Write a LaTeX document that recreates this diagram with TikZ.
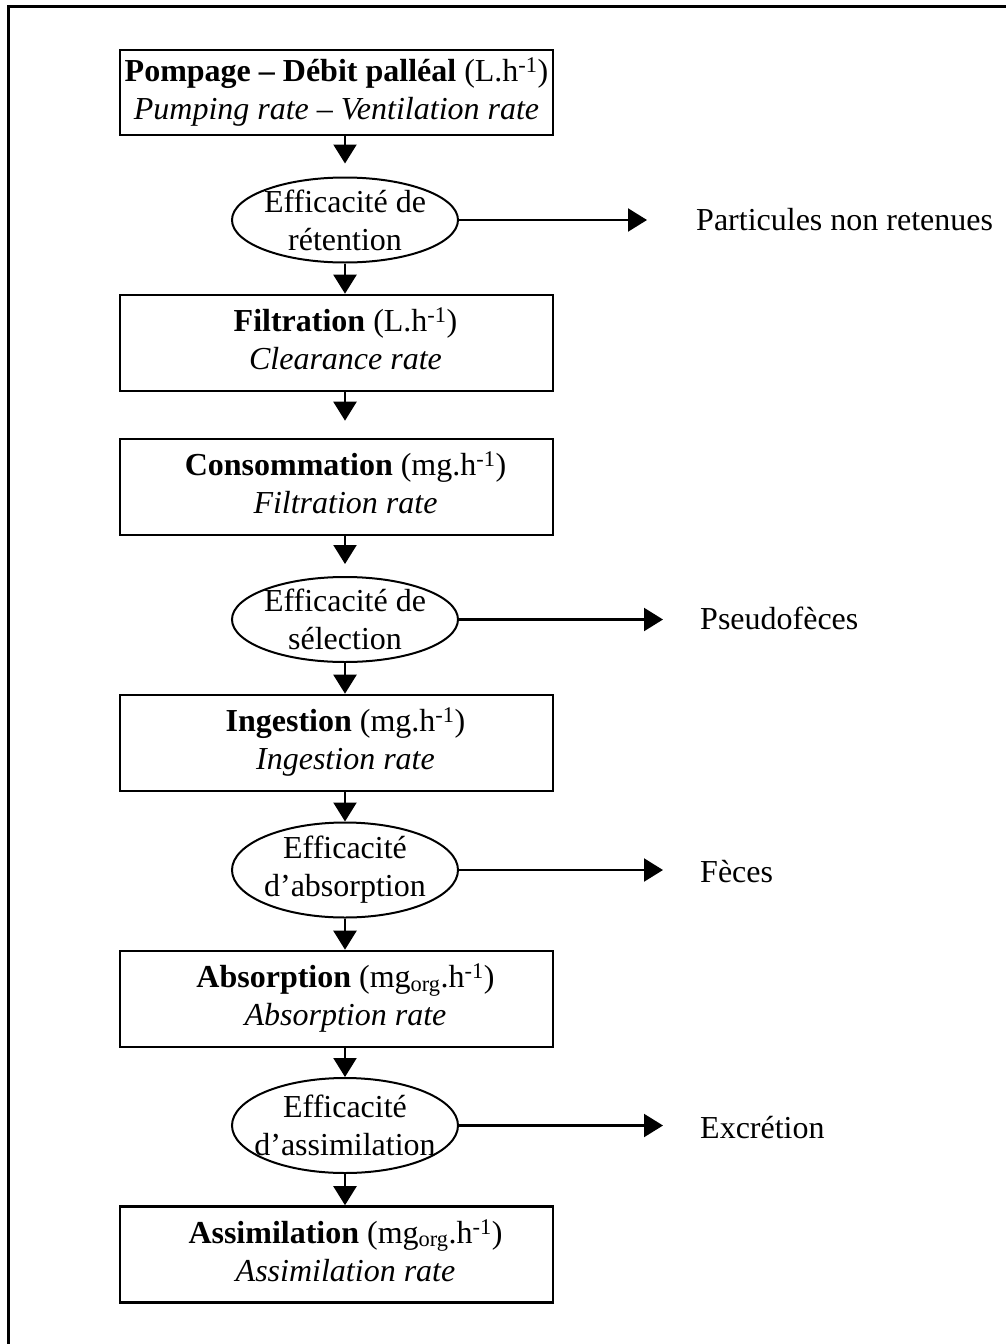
\documentclass[tikz,border=0pt]{standalone}
\usepackage{fontspec}
\setmainfont{Liberation Serif}
\usetikzlibrary{shapes.geometric}
\usetikzlibrary{arrows.meta}

\newcommand{\stagetext}[3][18pt]{\begin{tabular}{@{\hspace{#1}}c@{}}#2\\#3\end{tabular}}

\begin{document}
\begin{tikzpicture}[x=1pt,y=-1pt,
  every node/.style={font=\fontsize{32}{38}\selectfont},
  stage/.style={draw, line width=2.6pt, minimum width=433pt, minimum height=96pt, inner sep=0pt},
  effic/.style={draw, ellipse, line width=2pt, minimum width=226pt, minimum height=85pt, inner sep=0pt},
  flow/.style={line width=2.2pt, -{Triangle[length=19pt,width=23pt]}},
  loss/.style={anchor=west, inner sep=0pt, text height=24pt, text depth=4pt}]
\useasboundingbox (0,0) rectangle (1006,1344);
%frame
\draw[line width=2.5pt] (8.5,1344) -- (8.5,6.5) -- (1006,6.5);

%boxes
\node[stage, minimum height=85pt] (pump) at (336.5,92.5) {\stagetext[0pt]{\textbf{Pompage -- Débit palléal} (L.h\textsuperscript{-1})}{\textit{Pumping rate -- Ventilation rate}}};
\node[stage] (filt) at (336.5,343) {\stagetext{\textbf{Filtration} (L.h\textsuperscript{-1})}{\textit{Clearance rate}}};
\node[stage] (cons) at (336.5,487) {\stagetext{\textbf{Consommation} (mg.h\textsuperscript{-1})}{\textit{Filtration rate}}};
\node[stage] (inge) at (336.5,743) {\stagetext{\textbf{Ingestion} (mg.h\textsuperscript{-1})}{\textit{Ingestion rate}}};
\node[stage] (abso) at (336.5,999) {\stagetext{\textbf{Absorption} (mg\textsubscript{org}.h\textsuperscript{-1})}{\textit{Absorption rate}}};
\node[stage] (assi) at (336.5,1254.5) {\stagetext{\textbf{Assimilation} (mg\textsubscript{org}.h\textsuperscript{-1})}{\textit{Assimilation rate}}};

%ellipses
\node[effic, label={[align=center]center:Efficacité de\\rétention}] (eret) at (345,220) {};
\node[effic, label={[align=center]center:Efficacité de\\sélection}] (esel) at (345,619.5) {};
\node[effic, minimum height=95pt, label={[align=center]center:Efficacité\\d’absorption}] (eabs) at (345,870) {};
\node[effic, minimum height=95pt, label={[align=center]center:Efficacité\\d’assimilation}] (eass) at (345,1125.5) {};

%losses
\node[loss] (lret) at (696,220) {Particules non retenues};
\node[loss] (lsel) at (700,619.5) {Pseudofèces};
\node[loss] (labs) at (700,872) {Fèces};
\node[loss] (lass) at (700,1128) {Excrétion};

%vertical arrows
\draw[flow, shorten >=13pt] (pump.south -| eret) -- (eret.north);
\draw[flow] (eret.south) -- (eret |- filt.north);
\draw[flow, shorten >=17pt] (filt.south -| eret) -- (eret |- cons.north);
\draw[flow, shorten >=12pt] (cons.south -| esel) -- (esel.north);
\draw[flow] (esel.south) -- (esel |- inge.north);
\draw[flow] (inge.south -| eabs) -- (eabs.north);
\draw[flow] (eabs.south) -- (eabs |- abso.north);
\draw[flow] (abso.south -| eass) -- (eass.north);
\draw[flow] (eass.south) -- (eass |- assi.north);

%horizontal arrows
\draw[flow, shorten >=49pt] (eret.east) -- (lret.west);
\draw[flow, shorten >=37pt] (esel.east) -- (lsel.west);
\draw[flow, shorten >=37pt] (eabs.east) -- (labs.west |- eabs.east);
\draw[flow, shorten >=37pt] (eass.east) -- (lass.west |- eass.east);

\end{tikzpicture}
\end{document}
